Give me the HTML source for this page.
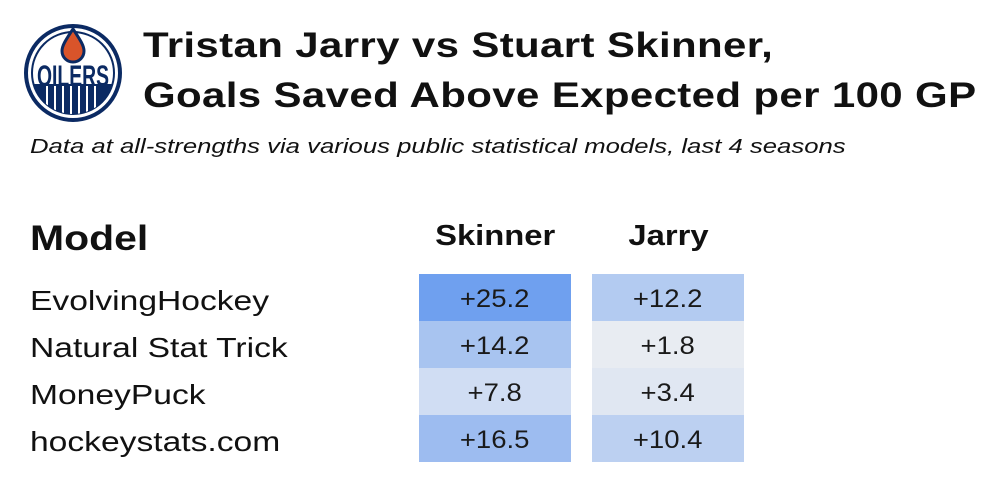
<!DOCTYPE html>
<html><head><style>
body{margin:0;width:1000px;height:487px;background:#fff;font-family:"Liberation Sans",sans-serif;color:#111;position:relative;overflow:hidden}
.a{position:absolute;white-space:nowrap;transform-origin:0 0}
.t{font-weight:bold;font-size:35px;left:143px;letter-spacing:0.3px;transform:scaleX(1.2)}
.c{position:absolute;width:152px;height:47px;line-height:51px;text-align:center;font-size:25px;color:#1a1a1a}
.c span{display:inline-block;transform:scaleX(1.1)}
.l{font-size:28px;left:30px;transform:scaleX(1.2)}
</style></head><body>
<svg class="a" style="left:24px;top:24px" width="98" height="98" viewBox="0 0 98 98">
<defs><clipPath id="cp"><circle cx="49" cy="49" r="41"/></clipPath></defs>
<circle cx="49" cy="49" r="47" fill="#fff" stroke="#0b2a63" stroke-width="4"/>
<circle cx="49" cy="49" r="41" fill="none" stroke="#0b2a63" stroke-width="2"/>
<g clip-path="url(#cp)">
<rect x="0" y="60" width="98" height="40" fill="#0b2a63"/>
<g fill="#fff"><rect x="22" y="62" width="2" height="30"/><rect x="30" y="62" width="2" height="34"/><rect x="38" y="62" width="2" height="36"/><rect x="46" y="62" width="2" height="36"/><rect x="54" y="62" width="2" height="36"/><rect x="62" y="62" width="2" height="34"/><rect x="70" y="62" width="2" height="32"/></g>
</g>
<path d="M49 5 C41 17 38 22 38 27 A11 11 0 0 0 60 27 C60 22 57 17 49 5 Z" fill="#d9542a" stroke="#0b2a63" stroke-width="3"/>
<text x="49" y="62" text-anchor="middle" font-family="Liberation Sans" font-weight="bold" font-size="30" fill="#0b2a63" textLength="72" lengthAdjust="spacingAndGlyphs">OILERS</text>
</svg>
<div class="a t" style="top:26px">Tristan Jarry vs Stuart Skinner,</div>
<div class="a t" style="top:76px">Goals Saved Above Expected per 100 GP</div>
<div class="a" style="left:30px;top:136px;font-size:20px;font-style:italic;transform:scaleX(1.285)">Data at all-strengths via various public statistical models, last 4 seasons</div>
<div class="a" style="left:30px;top:219px;font-size:35px;font-weight:bold;transform:scaleX(1.17)">Model</div>
<div class="a" style="left:419px;width:152px;text-align:center;top:220px;font-size:29px;font-weight:bold"><span style="display:inline-block;transform:scaleX(1.13)">Skinner</span></div>
<div class="a" style="left:592px;width:152px;text-align:center;top:220px;font-size:29px;font-weight:bold"><span style="display:inline-block;transform:scaleX(1.13)">Jarry</span></div>
<div class="a l" style="top:285px">EvolvingHockey</div>
<div class="a l" style="top:332px">Natural Stat Trick</div>
<div class="a l" style="top:379px">MoneyPuck</div>
<div class="a l" style="top:426px">hockeystats.com</div>
<div class="c" style="left:419px;top:274px;background:#6fa0ef"><span>+25.2</span></div>
<div class="c" style="left:419px;top:321px;background:#a8c4f0"><span>+14.2</span></div>
<div class="c" style="left:419px;top:368px;background:#d0ddf3"><span>+7.8</span></div>
<div class="c" style="left:419px;top:415px;background:#9dbcf0"><span>+16.5</span></div>
<div class="c" style="left:592px;top:274px;background:#b3cbf1"><span>+12.2</span></div>
<div class="c" style="left:592px;top:321px;background:#e8ecf2"><span>+1.8</span></div>
<div class="c" style="left:592px;top:368px;background:#e0e7f2"><span>+3.4</span></div>
<div class="c" style="left:592px;top:415px;background:#bcd0f1"><span>+10.4</span></div>
</body></html>
